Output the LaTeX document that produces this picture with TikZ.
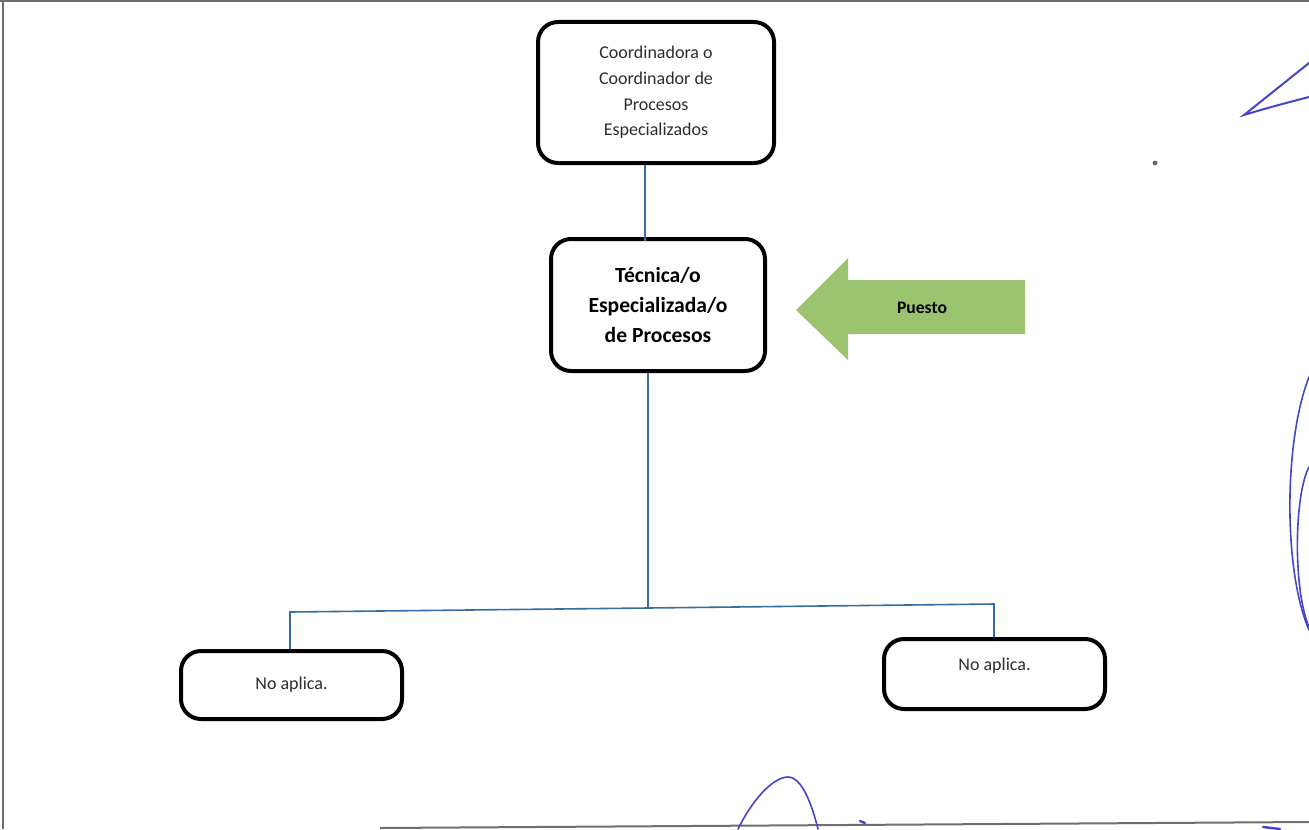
\documentclass[tikz,border=0pt]{standalone}
\usepackage{fontspec}
\setmainfont{Carlito}
\definecolor{linkblue}{RGB}{52,110,165}
\definecolor{pgreen}{RGB}{155,195,112}
\definecolor{ink}{RGB}{70,70,200}
\definecolor{framegray}{RGB}{110,110,110}
\definecolor{txtgray}{RGB}{45,45,45}
\tikzset{
  box/.style={draw=black, line width=2pt, rounded corners=10pt, fill=white, align=center, inner sep=0pt},
  link/.style={draw=linkblue, line width=0.8pt},
  scribble/.style={draw=ink, line width=0.8pt, line cap=round},
}
\begin{document}
\begin{tikzpicture}[x=0.5pt,y=-0.5pt]
\useasboundingbox (0,0) rectangle (1309,829);
\fill[white] (0,0) rectangle (1309,829);
% page frame
\draw[framegray, line width=0.9pt] (3,0) -- (3,829);
\draw[framegray, line width=0.9pt] (0,1) -- (1309,1);
\draw[framegray, line width=1pt] (380,828) -- (1309,822);
% nodes
\node[box, minimum width=118pt, minimum height=70.5pt, text=txtgray, font=\fontsize{9}{12.8}\selectfont] (top) at (656,92.5)
  {\raisebox{-1pt}{}Coordinadora o\\Coordinador de\\Procesos\\Especializados};
\node[box, minimum width=107pt, minimum height=66pt, font=\bfseries\fontsize{10.8}{15}\selectfont] (mid) at (658,305)
  {Técnica/o\\Especializada/o\\de Procesos};
\node[box, minimum width=110.5pt, minimum height=34pt, text=txtgray, font=\fontsize{9}{10}\selectfont] (left) at (291.5,685) {No aplica.};
\node[box, minimum width=110.5pt, minimum height=35pt, text=txtgray, font=\fontsize{9}{10}\selectfont, text depth=10pt] (right) at (994.5,674) {No aplica.};
% Puesto arrow
\fill[pgreen] (796,310) -- (848,258) -- (848,280) -- (1025,280) -- (1025,334) -- (848,334) -- (848,360) -- cycle;
\node[font=\bfseries\fontsize{8.8}{10}\selectfont, inner sep=0pt] (puesto) at (922,308) {Puesto};
% connectors
\draw[link] (top.south -| 645,0) -- (645,241);
\coordinate (bl) at (290,612);
\coordinate (bm) at (648,608);
\coordinate (br) at (994,604);
\draw[link] (648,373) -- (bm);
\draw[link] (left.north -| bl) -- (bl) -- (bm) -- (br) -- (right.north -| br);
% handwritten marks
\draw[scribble, line width=1pt] (1309,63) -- (1244,115) .. controls (1270,107) and (1290,102) .. (1309,97);
\draw[scribble] (1309,377) .. controls (1284,440) and (1283,570) .. (1309,630);
\draw[scribble] (1309,467) .. controls (1294,495) and (1293,590) .. (1309,627);
\draw[scribble] (738,829) .. controls (755,795) and (775,777) .. (788,777) .. controls (802,777) and (812,805) .. (818,829);
\draw[scribble, line width=1.2pt] (860,821) -- (865,823);
\draw[scribble, line width=1.2pt] (1263,827) -- (1280,829);
\fill[black!60] (1155,163) circle (1.2pt);
\end{tikzpicture}
\end{document}
